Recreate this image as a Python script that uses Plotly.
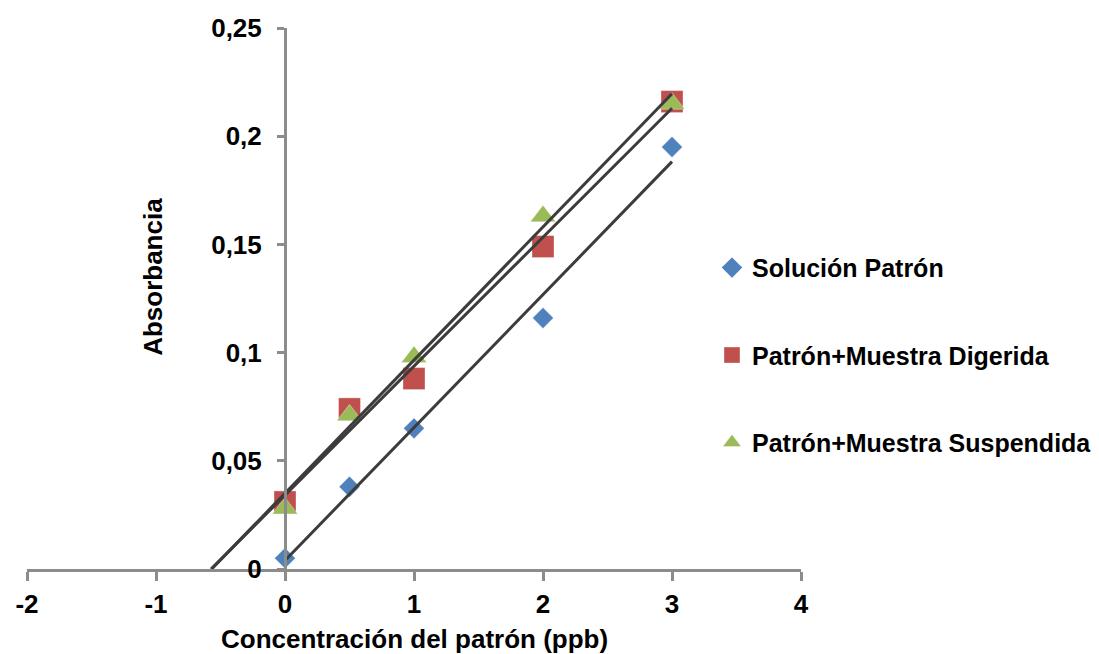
import numpy as np
import plotly.graph_objects as go

# Concentración del patrón añadido (ppb)
conc = [0, 0.5, 1, 2, 3]

# Absorbancias medidas
abs_patron = [0.005, 0.038, 0.065, 0.116, 0.195]
abs_digerida = [0.031, 0.074, 0.088, 0.149, 0.216]
abs_suspendida = [0.028, 0.071, 0.098, 0.163, 0.215]

series_names = ["Solución Patrón", "Patrón+Muestra Digerida", "Patrón+Muestra Suspendida"]
series_values = [abs_patron, abs_digerida, abs_suspendida]
series_colors = ["#4F81BD", "#C0504D", "#9BBB59"]
series_symbols = ["diamond", "square", "triangle-up"]
series_sizes = [16, 22, 22]
# las rectas de adición estándar se extienden hasta cortar el eje x
extend_to_intercept = [False, True, True]

x_ticks = [-2, -1, 0, 1, 2, 3, 4]
x_tick_labels = ["-2", "-1", "0", "1", "2", "3", "4"]
y_ticks = [0, 0.05, 0.1, 0.15, 0.2, 0.25]

FONT = dict(family="Liberation Sans, Arial, sans-serif", size=26, color="black", weight=700)
LEGEND_FONT = dict(FONT, size=25)
AXIS_GREY = "#8C8C8C"

fig = go.Figure()

for i, (name, vals) in enumerate(zip(series_names, series_values)):
    fig.add_trace(go.Scatter(
        x=conc, y=vals, mode="markers", name=name,
        legendgroup=name,
        marker=dict(symbol=series_symbols[i], size=series_sizes[i], color=series_colors[i],
                    line=dict(width=1, color="rgba(255,255,255,0.35)")),
        cliponaxis=False,
    ))

# rectas de regresión lineal, dibujadas sobre los marcadores
for i, vals in enumerate(series_values):
    m, b = np.polyfit(conc, vals, 1)
    x0 = -b / m if extend_to_intercept[i] else conc[0]
    x1 = conc[-1]
    fig.add_trace(go.Scatter(
        x=[x0, x1], y=[m * x0 + b, m * x1 + b], mode="lines",
        line=dict(color="#3C3C3C", width=3),
        showlegend=False, hoverinfo="skip", cliponaxis=False,
    ))

fig.update_layout(
    width=1099, height=654,
    margin=dict(l=27, r=298, t=28, b=85, autoexpand=False),
    paper_bgcolor="white", plot_bgcolor="white",
    separators=",.",
    font=FONT,
    showlegend=True,
    legend=dict(x=0.885, y=0.395, xanchor="left", yanchor="middle",
                font=LEGEND_FONT, tracegroupgap=52, bgcolor="rgba(0,0,0,0)"),
    xaxis=dict(range=[-2, 4], tickvals=x_ticks, ticktext=x_tick_labels,
               showgrid=False, zeroline=False,
               showline=True, linecolor=AXIS_GREY, linewidth=3,
               ticks="outside", ticklen=9, tickwidth=3, tickcolor=AXIS_GREY,
               ticklabelstandoff=1, tickfont=FONT),
    yaxis=dict(range=[0, 0.25], tickvals=y_ticks, showgrid=False, zeroline=False,
               anchor="free", position=1 / 3,
               showline=True, linecolor=AXIS_GREY, linewidth=3,
               ticks="outside", ticklen=7, tickwidth=3, tickcolor=AXIS_GREY,
               ticklabelstandoff=10, tickfont=FONT),
    annotations=[
        dict(text="Concentración del patrón (ppb)", xref="paper", yref="paper",
             x=0.5, y=-0.129, xanchor="center", yanchor="middle",
             showarrow=False, font=FONT),
        dict(text="Absorbancia", xref="paper", yref="paper",
             x=0.1628, y=0.54, xanchor="center", yanchor="middle",
             textangle=-90, showarrow=False, font=FONT),
    ],
)

fig.write_html("out.html")
